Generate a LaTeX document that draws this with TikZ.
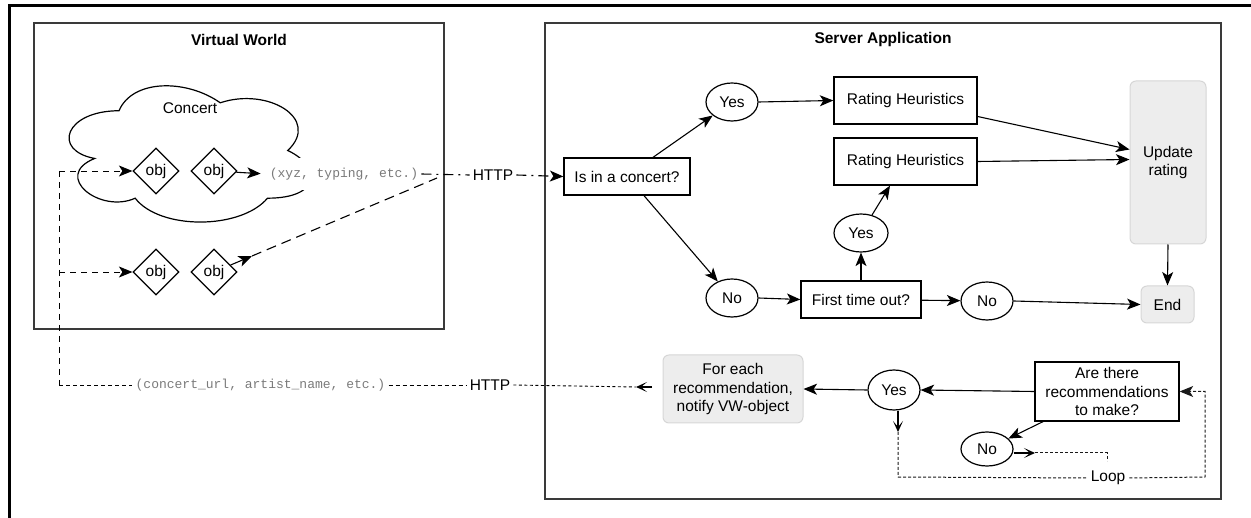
\documentclass[tikz,border=0pt]{standalone}
\usepackage{fontspec}
\setmainfont{Liberation Sans}
\newfontfamily\codefont{Liberation Mono}
\usetikzlibrary{arrows.meta,shapes.geometric}
\definecolor{gfill}{HTML}{EDEDED}
\definecolor{gline}{HTML}{D6D6D6}
\definecolor{codegray}{HTML}{7A7A7A}
\definecolor{framegray}{HTML}{3A3A3A}
\begin{document}
\begin{tikzpicture}[x=1pt,y=-1pt,
  font=\fontsize{15.5}{18.8}\selectfont,
  box/.style={draw,line width=1.3pt,inner sep=0pt,align=center},
  ell/.style={draw,ellipse,line width=1.2pt,inner sep=0pt},
  gbox/.style={draw=gline,fill=gfill,rounded corners=6pt,line width=1pt,inner sep=0pt,align=center},
  dia/.style={draw,diamond,line width=1.2pt,minimum width=46pt,minimum height=46pt,inner sep=0pt},
  tipf/.style={-{Stealth[length=13.5pt,width=11pt,inset=3.5pt]}},
  arr/.style={line width=1.1pt,tipf},
  oarr/.style={line width=1.1pt,-{Stealth[length=11pt,width=10pt,inset=6pt]}},
  code/.style={font=\codefont\fontsize{13}{15}\selectfont,text=codegray},
  dl/.style={line width=0.9pt,dash pattern=on 6pt off 5pt},
  dlb/.style={line width=0.9pt,dash pattern=on 4pt off 3pt},
  dfine/.style={line width=0.9pt,dash pattern=on 3pt off 2.5pt},
  dotl/.style={line width=1pt,draw=black!90,dash pattern=on 3pt off 2pt},
  dashdot/.style={line width=1.1pt,dash pattern=on 10pt off 5pt on 2pt off 5pt},
  title/.style={font=\fontsize{15.5}{18}\selectfont\bfseries},
  frame/.style={draw=framegray,line width=1.3pt}
]
\useasboundingbox (0,0) rectangle (1251,518);
% outer thick frame
\draw[line width=3pt] (9.5,518) -- (9.5,5.5) -- (1251,5.5);

% containers
\draw[frame] (34,23) rectangle (444,329);
\draw[frame] (545,23) rectangle (1221,499);
\node[title] (vwt) at (239,39.5) {Virtual World};
\node[title] (sat) at (883,39.5) {Server Application};

% cloud (draw.io style)
\draw[line width=1.2pt] (119,110.75)
  .. controls (65,110.75) and (51.5,150.5) .. (94.7,158.45)
  .. controls (51.5,175.94) and (100.1,214.1) .. (135.2,198.2)
  .. controls (159.5,230) and (240.5,230) .. (267.5,198.2)
  .. controls (321.5,198.2) and (321.5,166.4) .. (287.75,150.5)
  .. controls (321.5,118.7) and (267.5,86.9) .. (220.25,102.8)
  .. controls (186.5,78.95) and (132.5,78.95) .. (119,110.75) -- cycle;
\node (concert) at (190,108) {Concert};

% objects
\node[dia] (o1) at (156,171) {obj};
\node[dia] (o2) at (214,171) {obj};
\node[dia] (lo1) at (156,272) {obj};
\node[dia] (lo2) at (214,272) {obj};

\node[code,fill=white,minimum height=32pt,inner xsep=3pt,inner ysep=0pt] (lab1) at (344,174) {(xyz, typing, etc.)};
\node[inner sep=3pt] (http1) at (493,175) {HTTP};

% server nodes
\node[box,minimum width=126pt,minimum height=37pt] (isc) at (627,176.5) {Is in a concert?};
\node[ell,minimum width=52pt,minimum height=38pt] (yes1) at (732,102) {Yes};
\node[ell,minimum width=52pt,minimum height=38pt] (no1) at (732,298) {No};
\node[box,minimum width=143pt,minimum height=47pt] (rh1) at (905.5,100.5) {Rating Heuristics};
\node[box,minimum width=143pt,minimum height=47pt] (rh2) at (905.5,161.5) {Rating Heuristics};
\node[ell,minimum width=54pt,minimum height=38pt] (yes2) at (861,233) {Yes};
\node[box,minimum width=120pt,minimum height=37pt] (fto) at (861,299.5) {First time out?};
\node[ell,minimum width=52pt,minimum height=38pt] (no2) at (987,301) {No};
\node[gbox,minimum width=76pt,minimum height=163pt] (upd) at (1168,162.5) {Update\\rating};
\node[gbox,minimum width=53pt,minimum height=37pt] (end) at (1167.5,304.5) {End};

\node[gbox,minimum width=140pt,minimum height=68pt] (fe) at (733,389) {For each\\recommendation,\\notify VW-object};
\node[ell,minimum width=52pt,minimum height=40pt] (yes3) at (894,390) {Yes};
\node[box,minimum width=144pt,minimum height=59pt] (are) at (1107,391.5) {Are there\\recommendations\\to make?};
\node[ell,minimum width=52pt,minimum height=34pt] (no3) at (987,449) {No};
\node[inner xsep=4pt] (loop) at (1108,478) {Loop};

% bottom channel labels
\node[code,inner xsep=3pt] (lab2) at (260.5,385) {(concert\_url, artist\_name, etc.)};
\node[inner sep=3pt] (http2) at (490,385) {HTTP};

% coordinates
\coordinate (p1) at (252,256);
\coordinate (p2) at (437,178);
\coordinate (vl) at (59,171);
\coordinate (vb) at (59,385);
\coordinate (fa) at (652,387);
\coordinate (fb) at (636,387);
\coordinate (ya) at (898,432);
\coordinate (yb) at (898,477);
\coordinate (lr) at (1205,477);
\coordinate (na) at (1035,453);
\coordinate (nb) at (1107,453);
\coordinate (nc) at (1107,461);

% virtual world connectors
\draw[arr,shorten >=6pt] (o2) -- (lab1.west);
\draw[arr] (lo2) -- (p1);
\draw[line width=1.1pt,dash pattern=on 10pt off 6pt] (p1) -- (p2);
\draw[dashdot] (lab1.east) -- (http1.west);
\draw[dashdot,tipf] (http1.east) -- (isc.west);

\draw[dl,tipf] (vl) -- (o1.west);
\draw[dl,tipf] (vl |- lo1) -- (lo1.west);
\draw[dl] (vl) -- (vb);
\draw[dlb] (vb) -- (lab2.west);
\draw[dlb] (lab2.east) -- (http2.west);
\draw[dfine] (http2.east) -- (fb);
\draw[oarr] (fa) -- (fb);

% server connectors
\draw[arr] ([xshift=26pt]isc.north) -- (yes1);
\draw[arr] ([xshift=17pt]isc.south) -- (no1);
\draw[arr] (yes1.east) -- (rh1.west);
\draw[arr] (no1.east) -- (fto.west);
\draw[arr] (fto.north) -- (yes2.south);
\draw[arr] (yes2) -- ([xshift=-15.5pt]rh2.south);
\draw[arr] (fto) -- (no2);
\draw[arr] (no2.east) -- (end.west);
\draw[arr] ([yshift=-16pt]rh1.east) -- ([yshift=13pt]upd.west);
\draw[arr] (rh2.east) -- ([yshift=3pt]upd.west);
\draw[arr] (upd.south) -- (end.north);

\draw[arr] (are.west) -- (yes3.east);
\draw[arr] (yes3.west) -- (fe.east);
\draw[arr] ([xshift=-64pt]are.south) -- (no3);
\draw[oarr] (yes3.south -| ya) -- (ya);
\draw[dotl] (ya) -- (yb) -- (loop.west);
\draw[dotl,tipf] (loop.east) -- (lr) |- (are.east);
\draw[oarr] (no3.east |- na) -- (na);
\draw[dotl] (na) -- (nb) -- (nc);
\end{tikzpicture}
\end{document}
